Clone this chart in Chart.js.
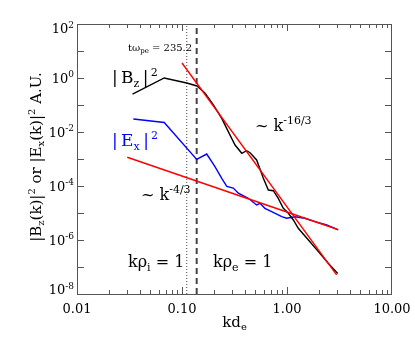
<!DOCTYPE html>
<html>
<head>
<meta charset="utf-8">
<script src="https://cdn.jsdelivr.net/npm/chart.js@4"></script>
<style>
  html, body { margin: 0; padding: 0; background: #fff; }
  #wrap { width: 415px; height: 344px; }
</style>
</head>
<body>
<div id="wrap"><canvas id="espectro" width="415" height="344"></canvas></div>
<script>
// ─────────────────────────────────────────
// DATOS
// ─────────────────────────────────────────

const kBz = [0.0338, 0.0677, 0.111, 0.139, 0.166, 0.199, 0.239, 0.276, 0.320, 0.371, 0.413, 0.445,
             0.514, 0.594, 0.664, 0.741, 0.826, 0.923, 1.03, 1.15, 1.28, 1.60, 1.99, 2.47, 3.04];
const bz  = [0.251, 1.0, 0.653, 0.506, 0.271, 0.10, 0.0321, 0.0103, 0.0033, 0.00163, 0.00203, 0.00171,
             9.2e-4, 1.98e-4, 7.1e-5, 6.7e-5, 3.5e-5, 1.49e-5, 9.75e-6, 5.5e-6, 2.71e-6, 1.0e-6, 3.7e-7, 1.37e-7, 5.7e-8];

const kEx = [0.0344, 0.0677, 0.138, 0.172, 0.206, 0.239, 0.267, 0.308, 0.344, 0.428, 0.514, 0.553,
             0.616, 0.714, 0.891, 0.993, 1.19, 1.48, 1.85, 2.39, 3.08];
const ex  = [0.0303, 0.0225, 9.6e-4, 1.53e-3, 5.2e-4, 1.93e-4, 9.6e-5, 8.4e-5, 5.4e-5, 3.5e-5, 1.98e-5, 2.29e-5,
             1.49e-5, 1.12e-5, 7.3e-6, 6.4e-6, 7.3e-6, 6.4e-6, 4.8e-6, 3.6e-6, 2.35e-6];

// ajustes ~k^-16/3 y ~k^-4/3 (extremos de cada recta)
const kFitSteep = [0.100, 2.97];
const fitSteep  = [3.6, 5.1e-8];
const kFitFlat  = [0.0301, 3.0];
const fitFlat   = [1.16e-3, 2.5e-6];

// kρi = 1 y kρe = 1
const kRhoI = 0.111;
const kRhoE = 0.138;

const xTicks      = [0.01, 0.1, 1, 10];
const xTickLabels = ["0.01", "0.10", "1.00", "10.00"];
const yTickExp    = [2, 1, 0, -1, -2, -3, -4, -5, -6, -7, -8];
const yLabelExp   = [2, 0, -2, -4, -6, -8];

const SERIF = "'DejaVu Serif', 'Liberation Serif', serif";

const pares = (xs, ys) => xs.map((x, i) => ({ x, y: ys[i] }));

// ─────────────────────────────────────────
// TEXTO CON SUB/SUPERÍNDICES
// parts: [texto, modo]  modo 0 normal, 1 sub, 2 sup
// ─────────────────────────────────────────

function medir(ctx, parts, size) {
  let w = 0;
  parts.forEach(([t, m]) => {
    ctx.font = `${m ? Math.round(size * 0.66) : size}px ${SERIF}`;
    w += ctx.measureText(t).width;
  });
  return w;
}

function rico(ctx, parts, x, y, size, align = "left", color = "#000") {
  const w = medir(ctx, parts, size);
  let cx = align === "right" ? x - w : align === "center" ? x - w / 2 : x;
  ctx.save();
  ctx.fillStyle = color;
  ctx.textBaseline = "alphabetic";
  ctx.textAlign = "left";
  parts.forEach(([t, m]) => {
    const s = m ? Math.round(size * 0.66) : size;
    ctx.font = `${s}px ${SERIF}`;
    const dy = m === 1 ? size * 0.22 : m === 2 ? -size * 0.42 : 0;
    ctx.fillText(t, cx, y + dy);
    cx += ctx.measureText(t).width;
  });
  ctx.restore();
}

// ─────────────────────────────────────────
// MARCO, TICKS Y ETIQUETAS (estilo IDL)
// ─────────────────────────────────────────

const marcoIDL = {
  id: "marcoIDL",
  afterDatasetsDraw(chart) {
    const { ctx, chartArea: a, scales: { x, y } } = chart;

    ctx.save();
    ctx.strokeStyle = "#555";
    ctx.lineWidth = 1;
    ctx.strokeRect(a.left + 0.5, a.top + 0.5, a.right - a.left - 1, a.bottom - a.top);

    ctx.beginPath();
    // ticks x: décadas + menores
    for (let d = -2; d < 1; d++) {
      for (let m = 1; m <= 9; m++) {
        const v = m * Math.pow(10, d);
        const px = Math.round(x.getPixelForValue(v)) + 0.5;
        const len = m === 1 ? 7 : 4;
        ctx.moveTo(px, a.bottom); ctx.lineTo(px, a.bottom - len);
        ctx.moveTo(px, a.top);    ctx.lineTo(px, a.top + len);
      }
    }
    // ticks y: cada década
    yTickExp.forEach(e => {
      const py = Math.round(y.getPixelForValue(Math.pow(10, e))) + 0.5;
      ctx.moveTo(a.left, py);  ctx.lineTo(a.left + 7, py);
      ctx.moveTo(a.right, py); ctx.lineTo(a.right - 7, py);
    });
    ctx.stroke();
    ctx.restore();

    // etiquetas eje x
    ctx.save();
    ctx.fillStyle = "#000";
    ctx.font = `13px ${SERIF}`;
    ctx.textAlign = "center";
    ctx.textBaseline = "alphabetic";
    xTicks.forEach((v, i) => ctx.fillText(xTickLabels[i], x.getPixelForValue(v), a.bottom + 19));
    ctx.restore();

    // etiquetas eje y: 10^n
    yLabelExp.forEach(e => {
      let py = y.getPixelForValue(Math.pow(10, e));
      py = Math.min(Math.max(py, a.top + 4.5), a.bottom - 4.5);
      rico(ctx, [["10", 0], [String(e), 2]], a.left - 3, py + 4.7, 13, "right");
    });

    // títulos de ejes
    rico(ctx, [["kd", 0], ["e", 1]], (a.left + a.right) / 2, 327, 15, "center");

    ctx.save();
    ctx.translate(41, (a.top + a.bottom) / 2 - 2);
    ctx.rotate(-Math.PI / 2);
    rico(ctx, [["|B", 0], ["z", 1], ["(k)|", 0], ["2", 2], [" or |E", 0], ["x", 1], ["(k)|", 0], ["2", 2], [" A.U.", 0]],
         0, 0, 15, "center");
    ctx.restore();

    // anotaciones
    rico(ctx, [["tω", 0], ["pe", 1], [" = 235.2", 0]], 128, 51, 10);
    rico(ctx, [["|\u2009B", 0], ["z", 1], ["\u2009|", 0], ["\u20092", 2]], 112, 83, 17);
    rico(ctx, [["|\u2009E", 0], ["x", 1], ["\u2009|", 0], ["\u20092", 2]], 112, 146, 17, "left", "#0000ff");
    rico(ctx, [["~ k", 0], ["-16/3", 2]], 255, 131, 16);
    rico(ctx, [["~ k", 0], ["-4/3", 2]], 141, 200, 16);
    rico(ctx, [["kρ", 0], ["i", 1], [" = 1", 0]], 128, 267, 16);
    rico(ctx, [["kρ", 0], ["e", 1], [" = 1", 0]], 213, 267, 16);
  }
};

// ─────────────────────────────────────────
// GRÁFICA
// ─────────────────────────────────────────

const linea = (data, color, extra = {}) => ({
  data,
  borderColor: color,
  borderWidth: 1.4,
  pointRadius: 0,
  tension: 0,
  fill: false,
  ...extra
});

new Chart(document.getElementById("espectro"), {
  type: "line",
  data: {
    datasets: [
      linea(pares(kFitSteep, fitSteep), "#ff0000"),
      linea(pares(kFitFlat, fitFlat), "#ff0000"),
      linea(pares(kBz, bz), "#000000"),
      linea(pares(kEx, ex), "#0000ff"),
      linea(pares([kRhoI, kRhoI], [1e-8, 1e2]), "#444", { borderWidth: 1, borderDash: [1, 2] }),
      linea(pares([kRhoE, kRhoE], [1e-8, 1e2]), "#444", { borderWidth: 2, borderDash: [6, 4] })
    ]
  },
  options: {
    responsive: false,
    animation: false,
    events: [],
    layout: { padding: { left: 77, right: 23, top: 24, bottom: 50 } },
    plugins: {
      legend: { display: false },
      tooltip: { enabled: false }
    },
    scales: {
      x: { type: "logarithmic", min: 0.01, max: 10, display: false },
      y: { type: "logarithmic", min: 1e-8, max: 1e2, display: false }
    }
  },
  plugins: [marcoIDL]
});
</script>
</body>
</html>
